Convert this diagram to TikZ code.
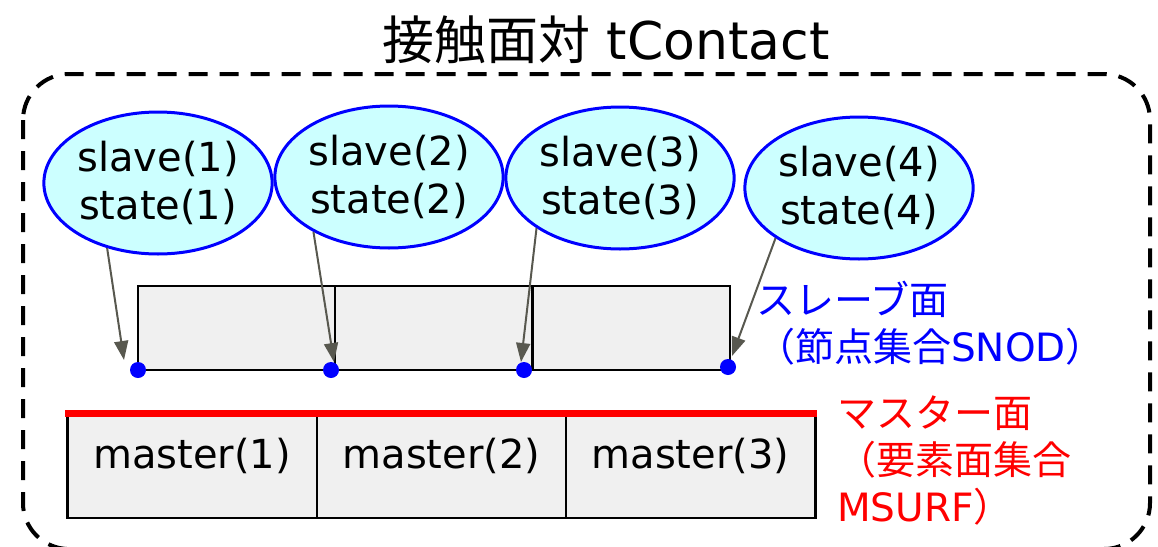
\documentclass[tikz,border=0pt]{standalone}
\usepackage{fontspec}
\setmainfont{DejaVu Sans}
\newfontfamily\jp{Noto Sans CJK JP}
\usetikzlibrary{shapes.geometric,arrows.meta}

\definecolor{nodefill}{HTML}{CCFFFF}
\definecolor{facefill}{HTML}{F0F0F0}
\definecolor{ptrgray}{HTML}{58584F}

\begin{document}
\begin{tikzpicture}[x=1pt,y=-1pt]
      \useasboundingbox (0,0) rectangle (1158,546);

      % contact pair frame
      \node (title) at (606,40) {\fontsize{52}{60}\selectfont{\jp 接触面対} tContact};
      \draw[line width=4pt,dash pattern=on 19pt off 12pt,rounded corners=46pt]
        (23,74) rectangle (1150,549);

      % slave nodes
      \begin{scope}[every node/.style={ellipse,draw=blue,line width=3pt,fill=nodefill,
          minimum width=224pt,minimum height=142pt,inner sep=0pt,align=center,
          font=\fontsize{40}{48}\selectfont}]
        \node (s1) at (158,183) {slave(1)\\state(1)};
        \node (s2) at (389,177) {slave(2)\\state(2)};
        \node (s3) at (620,178) {slave(3)\\state(3)};
        \node (s4) at (859,188) {slave(4)\\state(4)};
      \end{scope}

      % slave surface
      \begin{scope}[every node/.style={draw,line width=2.5pt,fill=facefill,
          minimum width=197pt,minimum height=84pt,inner sep=0pt,outer sep=0pt}]
        \node (c1) at (236.5,328) {};
        \node (c2) at (433.5,328) {};
        \node (c3) at (631.5,328) {};
      \end{scope}

      % master surface
      \begin{scope}[every node/.style={draw,line width=2.5pt,fill=facefill,
          minimum width=249.5pt,minimum height=105pt,inner sep=0pt,outer sep=0pt}]
        \node (m1) at (192,465.5) {};
        \node (m2) at (441.5,465.5) {};
        \node (m3) at (690.5,465.5) {};
      \end{scope}
      \draw[red,line width=7pt,shorten <=-2pt,shorten >=-2pt] (m1.north west) -- (m3.north east);

      \begin{scope}[every node/.style={font=\fontsize{40}{48}\selectfont}]
        \node (ml1) at ([yshift=10pt]m1.center) {master(1)};
        \node (ml2) at ([yshift=10pt]m2.center) {master(2)};
        \node (ml3) at ([yshift=10pt]m3.center) {master(3)};
      \end{scope}

      % nodal points
      \begin{scope}[every node/.style={circle,fill=blue,inner sep=0pt,minimum size=16pt}]
        \node (d1) at (c1.south west) {};
        \node (d2) at ([xshift=-4pt]c2.south west) {};
        \node (d3) at ([xshift=-9pt]c3.south west) {};
        \node (d4) at ([xshift=-2pt,yshift=3pt]c3.south east) {};
      \end{scope}

      \coordinate (t1) at ([shift={(-14,-10)}]d1.center);
      \coordinate (t2) at ([shift={(3,-8)}]d2.center);
      \coordinate (t3) at ([shift={(-3,-8)}]d3.center);
      \coordinate (t4) at ([shift={(4,-11)}]d4.center);

      \begin{scope}[every edge/.style={draw=ptrgray,line width=2pt,
          -{Triangle[length=19pt,width=14pt]}}]
        \path (s1.232) edge (t1);
        \path (s2.216) edge (t2);
        \path (s3.211) edge (t3);
        \path (s4.211) edge (t4);
      \end{scope}

      % surface labels
      \node[anchor=north west,inner sep=0pt,align=left,text=blue,
        font=\fontsize{39}{47}\selectfont] (slbl) at (756,281)
        {{\jp スレーブ面}\\{\jp （節点集合}SNOD{\jp ）}};
      \node[anchor=north west,inner sep=0pt,align=left,text=red,
        font=\fontsize{39}{47}\selectfont] (mlbl) at (837,396)
        {{\jp マスター面}\\{\jp （要素面集合}\\MSURF{\jp ）}};

    \end{tikzpicture}
\end{document}
